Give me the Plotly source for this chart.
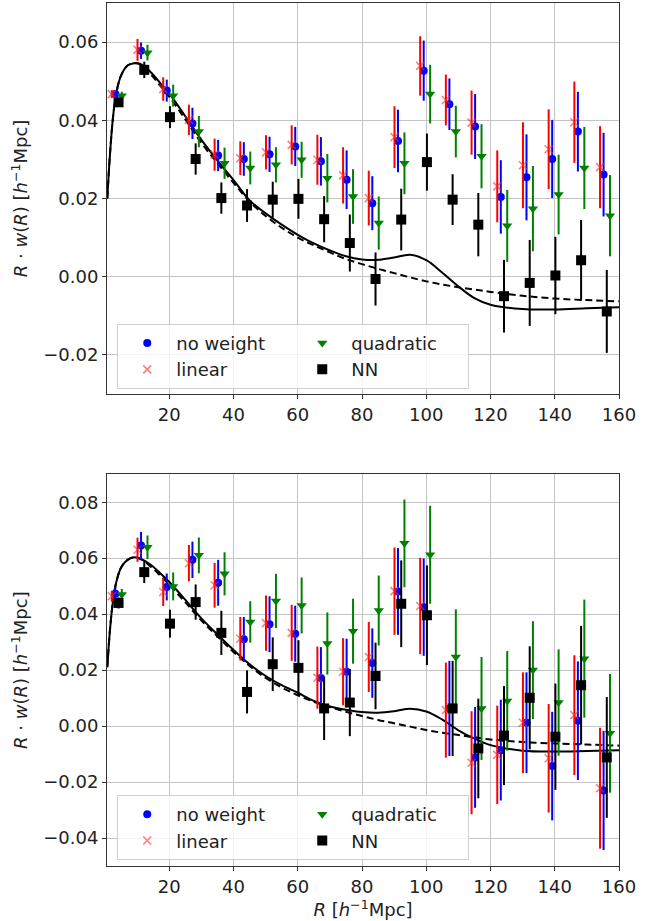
import plotly.graph_objects as go
from plotly.subplots import make_subplots

# bin centres (h^-1 Mpc)
R = [3.2, 11.2, 19.2, 27.2, 35.2, 43.2, 51.2, 59.2, 67.2, 75.2,
     83.2, 91.2, 99.2, 107.2, 115.2, 123.2, 131.2, 139.2, 147.2, 155.2]

# ---- top panel: R*w(R) and errors ----
nw_top = [0.0467, 0.0578, 0.0476, 0.0392, 0.0310, 0.0301, 0.0313, 0.0333, 0.0295, 0.0248,
          0.0188, 0.0347, 0.0527, 0.0441, 0.0384, 0.0204, 0.0254, 0.0301, 0.0371, 0.0261]
nw_top_err = [0.0010, 0.0021, 0.0028, 0.0040, 0.0040, 0.0043, 0.0045, 0.0050, 0.0062, 0.0075,
              0.0069, 0.0080, 0.0077, 0.0066, 0.0083, 0.0094, 0.0110, 0.0100, 0.0102, 0.0107]
lin_top = [0.0467, 0.0580, 0.0480, 0.0401, 0.0312, 0.0303, 0.0318, 0.0337, 0.0299, 0.0259,
           0.0201, 0.0357, 0.0539, 0.0452, 0.0394, 0.0231, 0.0285, 0.0326, 0.0395, 0.0280]
lin_top_err = [0.0010, 0.0028, 0.0030, 0.0039, 0.0041, 0.0043, 0.0044, 0.0050, 0.0064, 0.0072,
               0.0070, 0.0079, 0.0076, 0.0065, 0.0082, 0.0092, 0.0110, 0.0102, 0.0104, 0.0105]
quad_top = [0.0463, 0.0573, 0.0463, 0.0371, 0.0290, 0.0278, 0.0286, 0.0299, 0.0252, 0.0205,
            0.0137, 0.0290, 0.0467, 0.0371, 0.0308, 0.0130, 0.0174, 0.0210, 0.0278, 0.0156]
quad_top_err = [0.0010, 0.0020, 0.0028, 0.0040, 0.0040, 0.0042, 0.0045, 0.0046, 0.0062, 0.0070,
                0.0068, 0.0079, 0.0075, 0.0066, 0.0082, 0.0092, 0.0109, 0.0102, 0.0105, 0.0104]
nn_top = [0.0446, 0.0529, 0.0408, 0.0301, 0.0201, 0.0182, 0.0197, 0.0199, 0.0147, 0.0086,
          -0.0006, 0.0146, 0.0293, 0.0197, 0.0133, -0.0050, -0.0016, 0.0003, 0.0042, -0.0089]
nn_top_err = [0.0010, 0.0021, 0.0028, 0.0040, 0.0040, 0.0042, 0.0046, 0.0051, 0.0059, 0.0073,
              0.0068, 0.0079, 0.0073, 0.0065, 0.0081, 0.0093, 0.0110, 0.0099, 0.0103, 0.0106]

# ---- bottom panel ----
nw_bot = [0.0473, 0.0645, 0.0497, 0.0594, 0.0512, 0.0310, 0.0364, 0.0330, 0.0172, 0.0194,
          0.0225, 0.0481, 0.0425, 0.0063, -0.0112, -0.0086, 0.0012, -0.0143, 0.0019, -0.0230]
nw_bot_err = [0.0024, 0.0049, 0.0048, 0.0065, 0.0082, 0.0080, 0.0100, 0.0100, 0.0110, 0.0118,
              0.0124, 0.0155, 0.0174, 0.0170, 0.0180, 0.0180, 0.0180, 0.0194, 0.0212, 0.0213]
lin_bot = [0.0464, 0.0630, 0.0479, 0.0582, 0.0503, 0.0312, 0.0368, 0.0333, 0.0173, 0.0194,
           0.0247, 0.0482, 0.0429, 0.0057, -0.0131, -0.0103, 0.0012, -0.0115, 0.0039, -0.0222]
lin_bot_err = [0.0020, 0.0043, 0.0050, 0.0065, 0.0080, 0.0078, 0.0099, 0.0100, 0.0111, 0.0120,
               0.0125, 0.0156, 0.0172, 0.0170, 0.0184, 0.0176, 0.0180, 0.0194, 0.0214, 0.0216]
quad_bot = [0.0470, 0.0639, 0.0499, 0.0610, 0.0544, 0.0372, 0.0447, 0.0431, 0.0295, 0.0339,
            0.0413, 0.0653, 0.0612, 0.0247, 0.0063, 0.0090, 0.0200, 0.0084, 0.0241, -0.0026]
quad_bot_err = [0.0020, 0.0042, 0.0050, 0.0064, 0.0077, 0.0074, 0.0097, 0.0100, 0.0111, 0.0116,
                0.0125, 0.0157, 0.0175, 0.0170, 0.0184, 0.0178, 0.0175, 0.0190, 0.0211, 0.0212]
nn_bot = [0.0440, 0.0550, 0.0366, 0.0443, 0.0333, 0.0122, 0.0221, 0.0208, 0.0063, 0.0084,
          0.0179, 0.0437, 0.0396, 0.0063, -0.0080, -0.0034, 0.0101, -0.0038, 0.0146, -0.0112]
nn_bot_err = [0.0020, 0.0039, 0.0050, 0.0063, 0.0079, 0.0077, 0.0096, 0.0099, 0.0113, 0.0120,
              0.0119, 0.0155, 0.0178, 0.0170, 0.0178, 0.0177, 0.0184, 0.0190, 0.0212, 0.0216]

# ---- model curves ----
model_R = [0.7, 1.5, 2.5, 3.5, 5, 7, 9, 11, 14, 17, 20, 25, 30, 35, 40, 45, 50, 55, 60,
           65, 70, 75, 80, 85, 90, 95, 100, 105, 110, 115, 120, 130, 140, 150, 160]
solid_top = [0.020, 0.031, 0.041, 0.047, 0.0515, 0.0540, 0.0546, 0.0544, 0.0525, 0.0497,
             0.0468, 0.0410, 0.0350, 0.0297, 0.0247, 0.0195, 0.0162, 0.0133, 0.0107,
             0.0085, 0.0067, 0.0052, 0.0044, 0.0043, 0.0049, 0.0056, 0.0042, 0.0010,
             -0.0025, -0.0055, -0.0072, -0.0083, -0.0084, -0.0081, -0.0078]
dashed_top = [0.020, 0.031, 0.041, 0.047, 0.0515, 0.0540, 0.0546, 0.0543, 0.0520, 0.0490,
              0.0460, 0.0402, 0.0342, 0.0290, 0.0240, 0.0192, 0.0155, 0.0125, 0.0100,
              0.0080, 0.0062, 0.0045, 0.0032, 0.0020, 0.0009, -0.0002, -0.0012, -0.0020,
              -0.0027, -0.0033, -0.0039, -0.0049, -0.0056, -0.0060, -0.0063]
solid_bot = [0.021, 0.034, 0.045, 0.0515, 0.0567, 0.0594, 0.0603, 0.0598, 0.0578, 0.0548,
             0.0515, 0.0451, 0.0385, 0.0327, 0.0272, 0.0221, 0.0179, 0.0146, 0.0119,
             0.0090, 0.0070, 0.0058, 0.0050, 0.0048, 0.0053, 0.0062, 0.0052, 0.0023,
             -0.0015, -0.0045, -0.0068, -0.0088, -0.0091, -0.0089, -0.0086]
dashed_bot = [0.021, 0.034, 0.045, 0.0515, 0.0567, 0.0594, 0.0603, 0.0597, 0.0572, 0.0540,
              0.0505, 0.0442, 0.0377, 0.0320, 0.0265, 0.0215, 0.0172, 0.0138, 0.0110,
              0.0087, 0.0068, 0.0051, 0.0036, 0.0022, 0.0010, -0.0002, -0.0014, -0.0024,
              -0.0032, -0.0040, -0.0048, -0.0057, -0.0062, -0.0066, -0.0070]

FONT = "DejaVu Sans"

# name, colour, symbol, size, x-offset, legend rank
styles = [
    ("no weight", "blue", "circle", 8, 0.0, 1),
    ("linear", "red", "x-thin", 8, -1.1, 3),
    ("quadratic", "green", "triangle-down", 9, 2.0, 2),
    ("NN", "black", "square", 10, 1.0, 4),
]

fig = make_subplots(rows=2, cols=1)


def add_panel(row, series, solid, dashed, legend):
    fig.add_trace(go.Scatter(x=model_R, y=dashed, mode="lines", line_shape="spline",
                             line=dict(color="black", width=2, dash="7px,4px"),
                             showlegend=False), row=row, col=1)
    fig.add_trace(go.Scatter(x=model_R, y=solid, mode="lines", line_shape="spline",
                             line=dict(color="black", width=2),
                             showlegend=False), row=row, col=1)
    for (name, col, sym, size, off, rank), (vals, errs) in zip(styles, series):
        marker = dict(color=col, symbol=sym, size=size)
        if sym == "x-thin":
            marker = dict(symbol=sym, size=size,
                          line=dict(color="rgba(255,40,40,0.6)", width=1.6))
        fig.add_trace(go.Scatter(
            x=[r + off for r in R], y=vals, mode="markers", name=name,
            marker=marker, legend=legend, legendrank=rank,
            error_y=dict(type="data", array=errs, color=col, thickness=2, width=0),
        ), row=row, col=1)


add_panel(1, [(nw_top, nw_top_err), (lin_top, lin_top_err),
              (quad_top, quad_top_err), (nn_top, nn_top_err)],
          solid_top, dashed_top, "legend")
add_panel(2, [(nw_bot, nw_bot_err), (lin_bot, lin_bot_err),
              (quad_bot, quad_bot_err), (nn_bot, nn_bot_err)],
          solid_bot, dashed_bot, "legend2")

ylab = "<i>R</i> · <i>w</i>(<i>R</i>) [<i>h</i><sup>−1</sup>Mpc]"
axis_common = dict(showline=True, linecolor="#333", linewidth=1, mirror=True,
                   showgrid=True, gridcolor="#c4c4c4", gridwidth=1,
                   ticks="outside", ticklen=4, tickcolor="#333",
                   zeroline=False, tickfont=dict(size=18, color="#222"))

fig.update_xaxes(range=[0.6, 160], tick0=0, dtick=20, **axis_common)
fig.update_yaxes(tickformat=".2f", **axis_common)
fig.update_layout(
    xaxis=dict(domain=[0, 1]),
    xaxis2=dict(domain=[0, 1],
                title=dict(text="<i>R</i> [<i>h</i><sup>−1</sup>Mpc]",
                           font=dict(size=18, color="#222"), standoff=0)),
    yaxis=dict(domain=[0.547, 1], range=[-0.030, 0.070], dtick=0.02,
               title=dict(text=ylab, font=dict(size=18, color="#222"), standoff=10)),
    yaxis2=dict(domain=[0, 0.454], range=[-0.050, 0.090], dtick=0.02,
                title=dict(text=ylab, font=dict(size=18, color="#222"), standoff=10)),
)

legend_common = dict(orientation="h", xanchor="left", yanchor="bottom",
                     bgcolor="rgba(255,255,255,0.8)", bordercolor="#d0d0d0", borderwidth=1,
                     font=dict(size=18, color="#222", family=FONT),
                     itemwidth=48, entrywidth=112, traceorder="normal")
fig.update_layout(
    legend=dict(x=0.02, y=0.553, **legend_common),
    legend2=dict(x=0.02, y=0.007, **legend_common),
)

fig.update_layout(
    width=661, height=921,
    margin=dict(l=107, r=42, t=3, b=55),
    plot_bgcolor="white", paper_bgcolor="white",
    font=dict(family=FONT, size=18, color="#222"),
    hovermode=False,
)

# drop the browser's default body margin so the figure sits at the page corner
fig.write_html("out.html", config={"displayModeBar": False},
               post_script="document.body.style.margin='0';")
